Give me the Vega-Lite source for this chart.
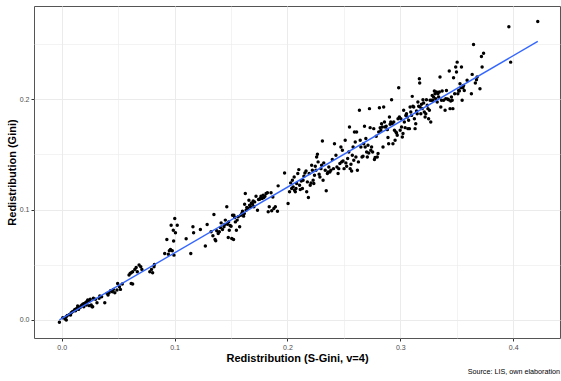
{
  "$schema": "https://vega.github.io/schema/vega-lite/v6.json",
  "width": 526,
  "height": 332,
  "autosize": "none",
  "padding": {"left": 34, "top": 6, "right": 1, "bottom": 43},
  "background": "white",
  "config": {
    "view": {"stroke": "#555555", "strokeWidth": 1},
    "font": "Liberation Sans"
  },
  "title": {"text": "Source: LIS, own elaboration", "orient": "bottom", "anchor": "end", "fontSize": 7.2, "fontWeight": "normal", "font": "Liberation Sans", "color": "#000000", "offset": 5},
  "data": {"values": [
    {"sgini":-0.002,"gini":-0.002},{"sgini":0.001,"gini":0.002},{"sgini":0.003,"gini":0.001},{"sgini":0.004,"gini":0.003},{"sgini":0.005,"gini":0.004},{"sgini":0.007,"gini":0.005},{"sgini":0.0085,"gini":0.0066},{"sgini":0.0095,"gini":0.0075},{"sgini":0.011,"gini":0.0084},{"sgini":0.0117,"gini":0.0096},{"sgini":0.0133,"gini":0.0105},{"sgini":0.0142,"gini":0.0126},{"sgini":0.0155,"gini":0.0114},{"sgini":0.0171,"gini":0.0126},{"sgini":0.018,"gini":0.0136},{"sgini":0.019,"gini":0.0145},{"sgini":0.0202,"gini":0.015},{"sgini":0.0212,"gini":0.0157},{"sgini":0.0221,"gini":0.0166},{"sgini":0.0231,"gini":0.0181},{"sgini":0.0243,"gini":0.0172},{"sgini":0.0253,"gini":0.0187},{"sgini":0.0262,"gini":0.0136},{"sgini":0.0275,"gini":0.012},{"sgini":0.0281,"gini":0.0196},{"sgini":0.03,"gini":0.0187},{"sgini":0.0313,"gini":0.0157},{"sgini":0.0332,"gini":0.0196},{"sgini":0.0338,"gini":0.0217},{"sgini":0.0354,"gini":0.0211},{"sgini":0.0382,"gini":0.0157},{"sgini":0.0041,"gini":0.0},{"sgini":0.0079,"gini":0.0045},{"sgini":0.0123,"gini":0.0084},{"sgini":0.0149,"gini":0.0096},{"sgini":0.0164,"gini":0.0114},{"sgini":0.0196,"gini":0.012},{"sgini":0.0218,"gini":0.0136},{"sgini":0.0243,"gini":0.013},{"sgini":0.0269,"gini":0.012},
    {"sgini":0.0401,"gini":0.0241},{"sgini":0.0411,"gini":0.0226},{"sgini":0.042,"gini":0.0247},{"sgini":0.0433,"gini":0.0265},{"sgini":0.0449,"gini":0.0256},{"sgini":0.0458,"gini":0.0277},{"sgini":0.0471,"gini":0.0247},{"sgini":0.049,"gini":0.0271},{"sgini":0.0496,"gini":0.0331},{"sgini":0.0512,"gini":0.0301},{"sgini":0.0521,"gini":0.0277},{"sgini":0.0537,"gini":0.0325},{"sgini":0.0597,"gini":0.0407},{"sgini":0.0607,"gini":0.0422},{"sgini":0.0616,"gini":0.0428},{"sgini":0.0629,"gini":0.0437},{"sgini":0.0616,"gini":0.0331},{"sgini":0.0629,"gini":0.0325},{"sgini":0.0648,"gini":0.0458},{"sgini":0.066,"gini":0.0476},{"sgini":0.067,"gini":0.0437},{"sgini":0.0686,"gini":0.0497},{"sgini":0.0701,"gini":0.0482},{"sgini":0.0711,"gini":0.0458},{"sgini":0.0781,"gini":0.0437},{"sgini":0.0796,"gini":0.0458},{"sgini":0.0806,"gini":0.0428},{"sgini":0.0818,"gini":0.0482},{"sgini":0.0822,"gini":0.0503},
    {"sgini":0.0913,"gini":0.0602},{"sgini":0.0932,"gini":0.0729},{"sgini":0.0945,"gini":0.0596},{"sgini":0.0954,"gini":0.0626},{"sgini":0.0964,"gini":0.0639},{"sgini":0.097,"gini":0.0858},{"sgini":0.098,"gini":0.0626},{"sgini":0.0992,"gini":0.0714},{"sgini":0.1002,"gini":0.0919},{"sgini":0.1008,"gini":0.0789},{"sgini":0.0995,"gini":0.0587},{"sgini":0.1024,"gini":0.0858},{"sgini":0.0989,"gini":0.0813},
    {"sgini":0.1103,"gini":0.0735},{"sgini":0.1144,"gini":0.0602},{"sgini":0.1163,"gini":0.0843},{"sgini":0.1169,"gini":0.0789},{"sgini":0.1229,"gini":0.0819},{"sgini":0.1273,"gini":0.0669},{"sgini":0.1289,"gini":0.0864},{"sgini":0.1324,"gini":0.0798},{"sgini":0.134,"gini":0.0762},{"sgini":0.1349,"gini":0.0955},{"sgini":0.1359,"gini":0.0729},{"sgini":0.1365,"gini":0.0717},{"sgini":0.1374,"gini":0.0807},{"sgini":0.1387,"gini":0.0783},{"sgini":0.1397,"gini":0.0798},{"sgini":0.1406,"gini":0.0837},{"sgini":0.1413,"gini":0.0879},{"sgini":0.1425,"gini":0.0819},{"sgini":0.1438,"gini":0.0843},{"sgini":0.1444,"gini":0.0864},{"sgini":0.145,"gini":0.0904},{"sgini":0.1463,"gini":0.1024},{"sgini":0.1469,"gini":0.0867},{"sgini":0.1476,"gini":0.0747},{"sgini":0.1479,"gini":0.0888},{"sgini":0.1485,"gini":0.0813},{"sgini":0.1492,"gini":0.0855},{"sgini":0.1501,"gini":0.0849},{"sgini":0.1507,"gini":0.0738},{"sgini":0.1514,"gini":0.0949},{"sgini":0.1523,"gini":0.0729},{"sgini":0.1526,"gini":0.0949},{"sgini":0.1533,"gini":0.0927},{"sgini":0.1539,"gini":0.0888},{"sgini":0.1548,"gini":0.0813},{"sgini":0.1555,"gini":0.0904},{"sgini":0.1564,"gini":0.0934},{"sgini":0.1577,"gini":0.0843},{"sgini":0.1586,"gini":0.0949},{"sgini":0.1596,"gini":0.0964},{"sgini":0.1602,"gini":0.0985},{"sgini":0.1612,"gini":0.094},{"sgini":0.1618,"gini":0.0964},{"sgini":0.1621,"gini":0.1048},{"sgini":0.1627,"gini":0.1145},{"sgini":0.1634,"gini":0.0994},{"sgini":0.164,"gini":0.1018},{"sgini":0.165,"gini":0.1009},{"sgini":0.1659,"gini":0.1084},{"sgini":0.1665,"gini":0.1039},{"sgini":0.1672,"gini":0.1024},{"sgini":0.1681,"gini":0.106},{"sgini":0.1691,"gini":0.1048},{"sgini":0.1697,"gini":0.1078},{"sgini":0.1703,"gini":0.1024},{"sgini":0.171,"gini":0.1069},{"sgini":0.1722,"gini":0.112},{"sgini":0.1735,"gini":0.0994},{"sgini":0.1744,"gini":0.109},{"sgini":0.1754,"gini":0.1093},{"sgini":0.176,"gini":0.1099},{"sgini":0.1766,"gini":0.112},{"sgini":0.1776,"gini":0.1099},{"sgini":0.1785,"gini":0.1129},{"sgini":0.1792,"gini":0.1108},{"sgini":0.1801,"gini":0.112},{"sgini":0.1811,"gini":0.1145},{"sgini":0.1823,"gini":0.1151},{"sgini":0.183,"gini":0.0979},{"sgini":0.1839,"gini":0.1024},{"sgini":0.1855,"gini":0.1151},{"sgini":0.1861,"gini":0.0988},{"sgini":0.1871,"gini":0.1114},{"sgini":0.188,"gini":0.1009},{"sgini":0.1893,"gini":0.1024},{"sgini":0.1912,"gini":0.0985},{"sgini":0.1918,"gini":0.1214},
    {"sgini":0.1975,"gini":0.1331},{"sgini":0.2006,"gini":0.1054},{"sgini":0.2019,"gini":0.116},{"sgini":0.2029,"gini":0.1241},{"sgini":0.2038,"gini":0.119},{"sgini":0.2044,"gini":0.1265},{"sgini":0.2051,"gini":0.1205},{"sgini":0.206,"gini":0.1295},{"sgini":0.2063,"gini":0.1175},{"sgini":0.207,"gini":0.116},{"sgini":0.2076,"gini":0.119},{"sgini":0.2082,"gini":0.1235},{"sgini":0.2092,"gini":0.1325},{"sgini":0.2101,"gini":0.1361},{"sgini":0.2108,"gini":0.122},{"sgini":0.2114,"gini":0.1181},{"sgini":0.2123,"gini":0.1259},{"sgini":0.2133,"gini":0.119},{"sgini":0.2139,"gini":0.1265},{"sgini":0.2146,"gini":0.1301},{"sgini":0.2155,"gini":0.1331},{"sgini":0.2165,"gini":0.1349},{"sgini":0.2171,"gini":0.116},{"sgini":0.2177,"gini":0.125},{"sgini":0.2186,"gini":0.1108},{"sgini":0.2193,"gini":0.1325},{"sgini":0.2202,"gini":0.122},{"sgini":0.2209,"gini":0.1241},{"sgini":0.2215,"gini":0.14},{"sgini":0.2221,"gini":0.1355},{"sgini":0.2228,"gini":0.1265},{"sgini":0.2234,"gini":0.1235},{"sgini":0.224,"gini":0.131},{"sgini":0.2247,"gini":0.1392},{"sgini":0.2253,"gini":0.1355},{"sgini":0.2259,"gini":0.1476},{"sgini":0.2266,"gini":0.15},{"sgini":0.2272,"gini":0.1431},{"sgini":0.2281,"gini":0.1319},{"sgini":0.2288,"gini":0.1295},{"sgini":0.2297,"gini":0.137},{"sgini":0.2303,"gini":0.14},{"sgini":0.231,"gini":0.162},{"sgini":0.2316,"gini":0.1265},{"sgini":0.2322,"gini":0.1422},{"sgini":0.2335,"gini":0.1355},{"sgini":0.2344,"gini":0.1169},{"sgini":0.2354,"gini":0.1325},{"sgini":0.236,"gini":0.134},{"sgini":0.2367,"gini":0.1385},{"sgini":0.2376,"gini":0.134},{"sgini":0.2385,"gini":0.1355},{"sgini":0.2398,"gini":0.1452},{"sgini":0.2408,"gini":0.137},
    {"sgini":0.2417,"gini":0.1596},{"sgini":0.243,"gini":0.1491},{"sgini":0.2439,"gini":0.1385},{"sgini":0.2449,"gini":0.1325},{"sgini":0.2455,"gini":0.137},{"sgini":0.2465,"gini":0.1416},{"sgini":0.2474,"gini":0.1566},{"sgini":0.2481,"gini":0.1431},{"sgini":0.2487,"gini":0.1536},{"sgini":0.2493,"gini":0.144},{"sgini":0.2502,"gini":0.137},{"sgini":0.2512,"gini":0.1627},{"sgini":0.2518,"gini":0.1422},{"sgini":0.2525,"gini":0.1392},{"sgini":0.2534,"gini":0.1461},{"sgini":0.2544,"gini":0.1521},{"sgini":0.255,"gini":0.1747},{"sgini":0.2556,"gini":0.137},{"sgini":0.2563,"gini":0.141},{"sgini":0.2569,"gini":0.1349},{"sgini":0.2575,"gini":0.1491},{"sgini":0.2582,"gini":0.1566},{"sgini":0.2588,"gini":0.1446},{"sgini":0.2594,"gini":0.1702},{"sgini":0.2601,"gini":0.1611},{"sgini":0.2607,"gini":0.1476},{"sgini":0.2613,"gini":0.1702},{"sgini":0.262,"gini":0.1355},{"sgini":0.2629,"gini":0.1431},{"sgini":0.2638,"gini":0.1898},{"sgini":0.2645,"gini":0.1627},{"sgini":0.2651,"gini":0.1566},{"sgini":0.2661,"gini":0.1476},{"sgini":0.267,"gini":0.1482},{"sgini":0.2676,"gini":0.1596},{"sgini":0.2683,"gini":0.1753},{"sgini":0.2689,"gini":0.1566},{"sgini":0.2695,"gini":0.1642},{"sgini":0.2702,"gini":0.1521},{"sgini":0.2708,"gini":0.1476},{"sgini":0.2714,"gini":0.1581},{"sgini":0.2721,"gini":0.1512},{"sgini":0.2727,"gini":0.1913},{"sgini":0.2733,"gini":0.1741},{"sgini":0.2739,"gini":0.1536},{"sgini":0.2746,"gini":0.1566},{"sgini":0.2755,"gini":0.1521},{"sgini":0.2765,"gini":0.1732},{"sgini":0.2771,"gini":0.1452},{"sgini":0.2777,"gini":0.147},{"sgini":0.2787,"gini":0.1663},{"sgini":0.2796,"gini":0.1476},{"sgini":0.2803,"gini":0.1506},{"sgini":0.2809,"gini":0.1702},{"sgini":0.2815,"gini":0.1922},{"sgini":0.2822,"gini":0.1741},{"sgini":0.2828,"gini":0.1717},{"sgini":0.2834,"gini":0.1777},{"sgini":0.2841,"gini":0.1747},{"sgini":0.2847,"gini":0.1566},{"sgini":0.2853,"gini":0.1928},{"sgini":0.286,"gini":0.1792},{"sgini":0.2866,"gini":0.1747},
    {"sgini":0.2875,"gini":0.1753},{"sgini":0.2885,"gini":0.1723},{"sgini":0.2891,"gini":0.1651},{"sgini":0.2897,"gini":0.1596},{"sgini":0.2904,"gini":0.1837},{"sgini":0.291,"gini":0.1771},{"sgini":0.2916,"gini":0.1792},{"sgini":0.2923,"gini":0.1994},{"sgini":0.2929,"gini":0.1777},{"sgini":0.2935,"gini":0.1596},{"sgini":0.2942,"gini":0.1792},{"sgini":0.2948,"gini":0.1717},{"sgini":0.2954,"gini":0.1627},{"sgini":0.2961,"gini":0.1702},{"sgini":0.2967,"gini":0.1693},{"sgini":0.2973,"gini":0.1672},{"sgini":0.298,"gini":0.1822},{"sgini":0.2986,"gini":0.2102},{"sgini":0.2992,"gini":0.1837},{"sgini":0.2999,"gini":0.1717},{"sgini":0.3005,"gini":0.1822},{"sgini":0.3011,"gini":0.1747},{"sgini":0.3018,"gini":0.1657},{"sgini":0.3024,"gini":0.1687},{"sgini":0.303,"gini":0.1898},{"sgini":0.3036,"gini":0.1792},{"sgini":0.3043,"gini":0.1741},{"sgini":0.3049,"gini":0.1852},{"sgini":0.3055,"gini":0.1867},{"sgini":0.3062,"gini":0.1837},{"sgini":0.3068,"gini":0.1732},{"sgini":0.3074,"gini":0.1807},{"sgini":0.3081,"gini":0.1732},{"sgini":0.3087,"gini":0.1928},{"sgini":0.3093,"gini":0.1883},{"sgini":0.31,"gini":0.1852},{"sgini":0.3106,"gini":0.2024},{"sgini":0.3112,"gini":0.1934},{"sgini":0.3119,"gini":0.1928},{"sgini":0.3125,"gini":0.1822},{"sgini":0.3131,"gini":0.1732},{"sgini":0.3137,"gini":0.1777},{"sgini":0.3144,"gini":0.1892},{"sgini":0.315,"gini":0.1867},{"sgini":0.3156,"gini":0.1973},{"sgini":0.3163,"gini":0.1934},{"sgini":0.3169,"gini":0.2184},{"sgini":0.3172,"gini":0.2145},{"sgini":0.3175,"gini":0.1928},{"sgini":0.3182,"gini":0.1867},{"sgini":0.3188,"gini":0.1952},{"sgini":0.3194,"gini":0.1913},{"sgini":0.3201,"gini":0.1994},{"sgini":0.3207,"gini":0.1964},{"sgini":0.3213,"gini":0.1883},{"sgini":0.322,"gini":0.1837},{"sgini":0.3226,"gini":0.1867},{"sgini":0.3232,"gini":0.1994},{"sgini":0.3239,"gini":0.1943},{"sgini":0.3245,"gini":0.1913},{"sgini":0.3251,"gini":0.1822},{"sgini":0.3258,"gini":0.1898},{"sgini":0.3264,"gini":0.1988},{"sgini":0.327,"gini":0.1792},{"sgini":0.3276,"gini":0.1988},{"sgini":0.3283,"gini":0.2033},{"sgini":0.3289,"gini":0.1988},{"sgini":0.3295,"gini":0.2018},{"sgini":0.3302,"gini":0.2072},{"sgini":0.3308,"gini":0.2048},{"sgini":0.3314,"gini":0.2003},{"sgini":0.3321,"gini":0.2063},{"sgini":0.3327,"gini":0.1973},{"sgini":0.3333,"gini":0.2048},{"sgini":0.334,"gini":0.2018},{"sgini":0.3346,"gini":0.2063},{"sgini":0.3352,"gini":0.2199},{"sgini":0.3359,"gini":0.1928},{"sgini":0.3365,"gini":0.1988},{"sgini":0.3371,"gini":0.2072},
    {"sgini":0.3384,"gini":0.1988},{"sgini":0.3397,"gini":0.1898},{"sgini":0.3403,"gini":0.2003},{"sgini":0.3409,"gini":0.2078},{"sgini":0.3419,"gini":0.2},{"sgini":0.3428,"gini":0.1994},{"sgini":0.3434,"gini":0.2253},{"sgini":0.3441,"gini":0.1913},{"sgini":0.3447,"gini":0.1982},{"sgini":0.3453,"gini":0.2018},{"sgini":0.346,"gini":0.1988},{"sgini":0.3466,"gini":0.1913},{"sgini":0.3472,"gini":0.2193},{"sgini":0.3482,"gini":0.2048},{"sgini":0.3491,"gini":0.2289},{"sgini":0.3498,"gini":0.2244},{"sgini":0.3504,"gini":0.2334},{"sgini":0.351,"gini":0.2048},{"sgini":0.3517,"gini":0.2078},{"sgini":0.3523,"gini":0.2072},{"sgini":0.3529,"gini":0.2138},{"sgini":0.3536,"gini":0.2102},{"sgini":0.3542,"gini":0.2289},{"sgini":0.3548,"gini":0.1988},{"sgini":0.3555,"gini":0.2102},{"sgini":0.3561,"gini":0.2123},{"sgini":0.3567,"gini":0.2078},{"sgini":0.3592,"gini":0.2169},{"sgini":0.363,"gini":0.2048},{"sgini":0.3637,"gini":0.2223},{"sgini":0.3649,"gini":0.2494},{"sgini":0.3665,"gini":0.2145},{"sgini":0.3675,"gini":0.2175},{"sgini":0.3681,"gini":0.2199},{"sgini":0.3706,"gini":0.2093},{"sgini":0.3719,"gini":0.2385},{"sgini":0.3725,"gini":0.2289},{"sgini":0.3738,"gini":0.2415},
    {"sgini":0.3962,"gini":0.2655},{"sgini":0.3978,"gini":0.2334},{"sgini":0.4218,"gini":0.2702}
  ]},
  "encoding": {
    "x": {
      "field": "sgini", "type": "quantitative",
      "scale": {"domain": [-0.0245, 0.4415], "nice": false, "zero": false},
      "axis": {
        "title": "Redistribution (S-Gini, v=4)",
        "values": [0, 0.05, 0.1, 0.15, 0.2, 0.25, 0.3, 0.35, 0.4],
        "labelExpr": "abs(datum.value*10 - round(datum.value*10)) > 0.01 ? '' : format(datum.value, '.1f')",
        "domain": false,
        "grid": true,
        "gridColor": "#EBEBEB",
        "gridWidth": {"condition": {"test": "abs(datum.value*10 - round(datum.value*10)) > 0.01", "value": 0.6}, "value": 1},
        "tickOpacity": {"condition": {"test": "abs(datum.value*10 - round(datum.value*10)) > 0.01", "value": 0}, "value": 1},
        "tickColor": "#333333",
        "tickSize": 3,
        "labelFontSize": 7,
        "labelColor": "#4D4D4D",
        "labelPadding": 2,
        "labelFont": "Liberation Sans",
        "titleFont": "Liberation Sans",
        "titleFontSize": 11,
        "titleFontWeight": "bold",
        "titleColor": "#000000",
        "titlePadding": 2
      }
    },
    "y": {
      "field": "gini", "type": "quantitative",
      "scale": {"domain": [-0.0163, 0.2842], "nice": false, "zero": false},
      "axis": {
        "title": "Redistribution (Gini)",
        "values": [0, 0.05, 0.1, 0.15, 0.2, 0.25],
        "labelExpr": "abs(datum.value*10 - round(datum.value*10)) > 0.01 ? '' : format(datum.value, '.1f')",
        "domain": false,
        "grid": true,
        "gridColor": "#EBEBEB",
        "gridWidth": {"condition": {"test": "abs(datum.value*10 - round(datum.value*10)) > 0.01", "value": 0.6}, "value": 1},
        "tickOpacity": {"condition": {"test": "abs(datum.value*10 - round(datum.value*10)) > 0.01", "value": 0}, "value": 1},
        "tickColor": "#333333",
        "tickSize": 3,
        "labelFontSize": 7,
        "labelColor": "#4D4D4D",
        "labelPadding": 2,
        "labelFont": "Liberation Sans",
        "titleFont": "Liberation Sans",
        "titleFontSize": 11,
        "titleFontWeight": "bold",
        "titleColor": "#000000",
        "titlePadding": 2
      }
    }
  },
  "layer": [
    {"mark": {"type": "circle", "size": 12, "color": "#000000", "opacity": 1}},
    {
      "transform": [{"regression": "gini", "on": "sgini"}],
      "mark": {"type": "line", "color": "#3366FF", "strokeWidth": 1.4}
    }
  ]
}
